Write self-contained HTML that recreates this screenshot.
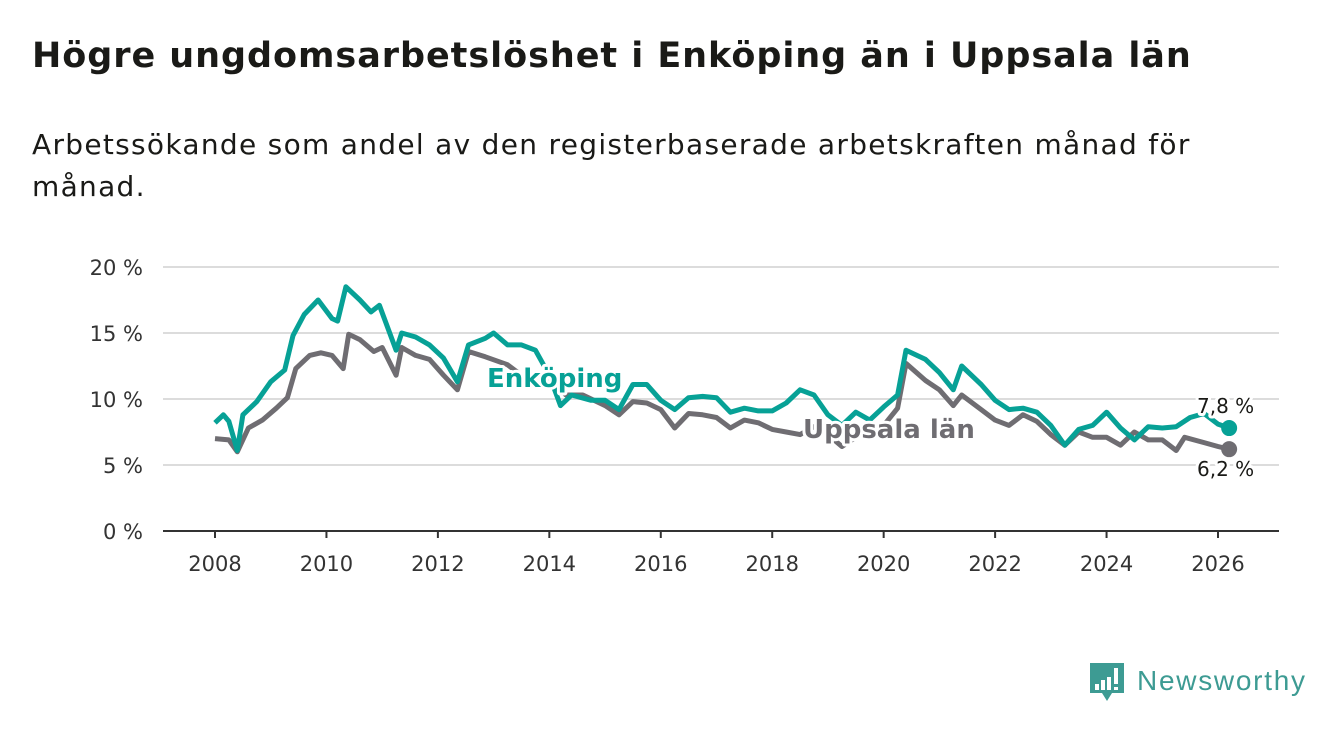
<!DOCTYPE html>
<html><head><meta charset="utf-8"><style>
html,body{margin:0;padding:0;background:#fff;width:1340px;height:734px;overflow:hidden;font-family:"DejaVu Sans","Liberation Sans",sans-serif;}
#title{position:absolute;left:32px;top:36px;font-size:35px;font-weight:bold;color:#1a1a17;margin:0;white-space:nowrap;letter-spacing:0.95px}
#sub{position:absolute;left:32px;top:124px;font-size:28px;color:#1a1a17;line-height:42px;width:1250px;white-space:nowrap;letter-spacing:1.3px}
svg{position:absolute;left:0;top:0;font-family:"DejaVu Sans","Liberation Sans",sans-serif}
</style></head><body>
<h1 id="title">Högre ungdomsarbetslöshet i Enköping än i Uppsala län</h1>
<div id="sub">Arbetssökande som andel av den registerbaserade arbetskraften månad för<br>månad.</div>
<svg id="chart" width="1340" height="734"></svg>
<script>
const yTicks=[0,5,10,15,20];
const xTicks=[2008,2010,2012,2014,2016,2018,2020,2022,2024,2026];
const enkT=[2008.0,2008.15,2008.25,2008.4,2008.5,2008.75,2009.0,2009.25,2009.4,2009.6,2009.85,2010.1,2010.2,2010.35,2010.6,2010.8,2010.95,2011.25,2011.35,2011.6,2011.85,2012.1,2012.35,2012.55,2012.85,2013.0,2013.25,2013.5,2013.75,2014.0,2014.2,2014.4,2014.75,2015.0,2015.25,2015.5,2015.75,2016.0,2016.25,2016.5,2016.75,2017.0,2017.25,2017.5,2017.75,2018.0,2018.25,2018.5,2018.75,2019.0,2019.25,2019.5,2019.75,2020.0,2020.25,2020.4,2020.75,2021.0,2021.25,2021.4,2021.75,2022.0,2022.25,2022.5,2022.75,2023.0,2023.25,2023.5,2023.75,2024.0,2024.25,2024.5,2024.75,2025.0,2025.25,2025.5,2025.75,2026.0,2026.2];
const enkV=[8.2,8.8,8.3,6.1,8.8,9.8,11.3,12.2,14.8,16.4,17.5,16.1,15.9,18.5,17.5,16.6,17.1,13.7,15.0,14.7,14.1,13.1,11.3,14.1,14.6,15.0,14.1,14.1,13.7,11.8,9.5,10.3,9.9,9.9,9.2,11.1,11.1,9.9,9.2,10.1,10.2,10.1,9.0,9.3,9.1,9.1,9.7,10.7,10.3,8.8,8.0,9.0,8.4,9.4,10.3,13.7,13.0,12.0,10.7,12.5,11.1,9.9,9.2,9.3,9.0,8.0,6.5,7.7,8.0,9.0,7.8,6.9,7.9,7.8,7.9,8.6,8.9,8.1,7.8];
const uppT=[2008.0,2008.25,2008.4,2008.6,2008.85,2009.1,2009.3,2009.45,2009.7,2009.9,2010.1,2010.3,2010.4,2010.6,2010.85,2011.0,2011.25,2011.35,2011.6,2011.85,2012.1,2012.35,2012.55,2012.85,2013.25,2013.5,2013.75,2014.0,2014.3,2014.6,2015.0,2015.25,2015.5,2015.75,2016.0,2016.25,2016.5,2016.75,2017.0,2017.25,2017.5,2017.75,2018.0,2018.25,2018.5,2018.75,2019.0,2019.25,2019.5,2019.75,2020.0,2020.25,2020.4,2020.75,2021.0,2021.25,2021.4,2021.75,2022.0,2022.25,2022.5,2022.75,2023.0,2023.25,2023.5,2023.75,2024.0,2024.25,2024.5,2024.75,2025.0,2025.25,2025.4,2025.75,2026.0,2026.2];
const uppV=[7.0,6.9,6.0,7.8,8.4,9.3,10.1,12.3,13.3,13.5,13.3,12.3,14.9,14.5,13.6,13.9,11.8,13.9,13.3,13.0,11.8,10.7,13.6,13.2,12.6,11.8,11.6,11.4,10.3,10.3,9.5,8.8,9.8,9.7,9.2,7.8,8.9,8.8,8.6,7.8,8.4,8.2,7.7,7.5,7.3,7.9,7.3,6.4,7.1,7.5,8.0,9.3,12.7,11.4,10.7,9.5,10.3,9.2,8.4,8.0,8.8,8.3,7.3,6.5,7.5,7.1,7.1,6.5,7.5,6.9,6.9,6.1,7.1,6.7,6.4,6.2];
const NS='http://www.w3.org/2000/svg';
const svg=document.getElementById('chart');
const x0=163,x1=1279;
function xS(t){return 215+(t-2008)*(1218-215)/18;}
function yS(v){return 531-v*(531-267)/20;}
function mk(tag,attrs){const e=document.createElementNS(NS,tag);for(const k in attrs)e.setAttribute(k,attrs[k]);svg.appendChild(e);return e;}
yTicks.forEach(v=>{
  if(v>0){const g=mk('line',{x1:x0,x2:x1,y1:yS(v),y2:yS(v),stroke:'#dcdcdc','stroke-width':2});
  
  }
  const t=mk('text',{x:143,y:yS(v)+8,'text-anchor':'end','font-size':21,fill:'#333'});
  t.textContent=v+' %';
  
  
});
const ax=mk('line',{x1:x0,x2:x1,y1:531,y2:531,stroke:'#333','stroke-width':2});


xTicks.forEach(y=>{
  const tk=mk('line',{x1:xS(y),x2:xS(y),y1:531,y2:538,stroke:'#333','stroke-width':2});
  
  
  const t=mk('text',{x:xS(y),y:571,'text-anchor':'middle','font-size':21,fill:'#333'});
  t.textContent=y;
  
  
});
function line(T,V,color,name){
  const d=T.map((t,i)=>(i?'L':'M')+xS(t).toFixed(1)+','+yS(V[i]).toFixed(1)).join('');
  const p=mk('path',{d:d,fill:'none',stroke:color,'stroke-width':5,'stroke-linejoin':'round'});
  
  
  const n=T.length-1;
  const c=mk('circle',{cx:xS(T[n]),cy:yS(V[n]),r:8,fill:color});
  
  
}
line(uppT,uppV,'#6f6d72','uppsala');
line(enkT,enkV,'#07a196','enkoping');
function label(txt,x,y,col,size,bold,anchor,name){
  const t=mk('text',{x:x,y:y,'font-size':size,'font-weight':bold?'bold':'normal',fill:col,stroke:'#fff','stroke-width':6,'paint-order':'stroke','stroke-linejoin':'round','text-anchor':anchor||'start'});
  t.textContent=txt;
  
  
}
label('Enköping',487,387,'#07a196',26,true,'start','enkoping-label');
label('Uppsala län',803,438,'#6f6d72',26,true,'start','uppsala-label');
label('7,8 %',1197,413,'#1a1a17',20,false,'start','enkoping-end-value');
label('6,2 %',1197,476,'#1a1a17',20,false,'start','uppsala-end-value');
const lg=mk('g',{});


lg.innerHTML='<path d="M1090,663 h34 v30 h-12 l-5,8 l-5,-8 h-12 z" fill="#3d9b93"/><rect x="1095" y="684" width="4" height="6" fill="#fff"/><rect x="1101" y="680" width="4" height="10" fill="#fff"/><rect x="1107" y="677" width="4" height="13" fill="#fff"/><rect x="1114" y="668" width="4" height="16" fill="#fff"/><rect x="1114" y="687" width="4" height="3" fill="#fff"/><text x="1137" y="690" font-size="28" fill="#3d9b93" font-family="Liberation Sans, sans-serif" textLength="168">Newsworthy</text>';
</script>
</body></html>
